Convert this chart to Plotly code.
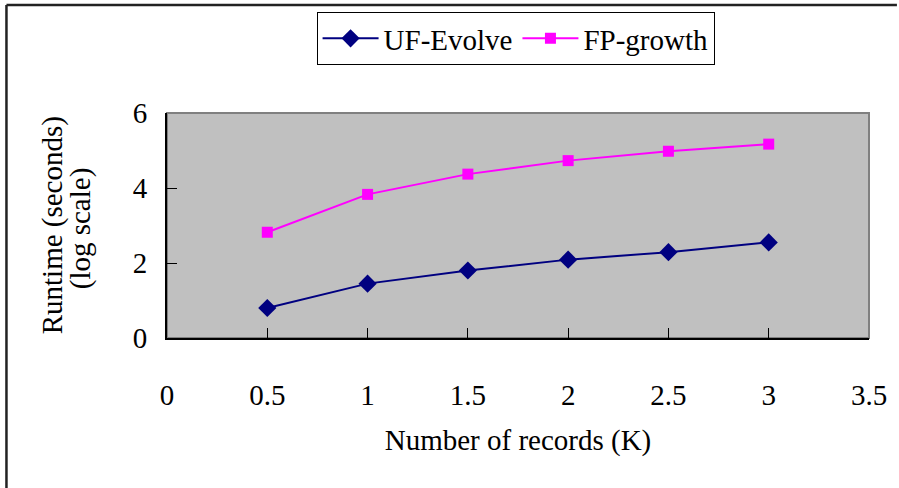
import plotly.graph_objects as go

records_k = [0.5, 1.0, 1.5, 2.0, 2.5, 3.0]
uf_evolve = [0.80, 1.45, 1.80, 2.09, 2.29, 2.55]
fp_growth = [2.82, 3.83, 4.37, 4.73, 4.98, 5.17]
x_ticks = [0, 0.5, 1, 1.5, 2, 2.5, 3, 3.5]
y_ticks = [0, 2, 4, 6]

FONT = "Liberation Serif, Times New Roman, serif"
W, H = 899, 488
L, R, T, B = 167, 28, 113, 150
PW, PH = W - L - R, H - T - B


def px_x(px):
    return (px - L) / PW


def px_y(py):
    return (H - B - py) / PH


fig = go.Figure()
fig.add_trace(go.Scatter(
    x=records_k, y=uf_evolve, mode="lines+markers", name="UF-Evolve",
    line=dict(color="#000080", width=2),
    marker=dict(symbol="diamond", size=14, color="#000080"),
))
fig.add_trace(go.Scatter(
    x=records_k, y=fp_growth, mode="lines+markers", name="FP-growth",
    line=dict(color="#FF00FF", width=2),
    marker=dict(symbol="square", size=11, color="#FF00FF"),
))

fig.update_layout(
    width=W, height=H,
    margin=dict(l=L, r=R, t=T, b=B, pad=0),
    paper_bgcolor="white",
    plot_bgcolor="#C0C0C0",
    font=dict(family=FONT, size=29, color="black"),
    showlegend=True,
    legend=dict(
        orientation="h", x=px_x(317), y=px_y(12), xanchor="left", yanchor="top",
        bgcolor="white", bordercolor="black", borderwidth=1,
        font=dict(family=FONT, size=29), itemwidth=56,
        tracegroupgap=0,
    ),
    xaxis=dict(
        range=[0, 3.5], tickvals=x_ticks, ticktext=[f"{v:g}" for v in x_ticks],
        ticks="inside", ticklen=10, tickcolor="black", tickwidth=1,
        showline=True, linecolor="black", linewidth=2,
        showgrid=False, zeroline=False, ticklabelstandoff=30,
        title=dict(text="Number of records (K)", standoff=20,
                   font=dict(family=FONT, size=29)),
    ),
    yaxis=dict(
        range=[0, 6], tickvals=y_ticks,
        ticks="inside", ticklen=10, tickcolor="black", tickwidth=1,
        showline=True, linecolor="black", linewidth=2,
        showgrid=False, zeroline=False, ticklabelstandoff=12,
    ),
    shapes=[
        dict(type="rect", xref="paper", yref="paper", x0=0, x1=1, y0=0, y1=1,
             line=dict(color="#808080", width=2), layer="below"),
        dict(type="line", xref="paper", yref="paper",
             x0=px_x(6), x1=px_x(W), y0=px_y(5), y1=px_y(5),
             line=dict(color="#222222", width=2.5)),
        dict(type="line", xref="paper", yref="paper",
             x0=px_x(6), x1=px_x(6), y0=px_y(5), y1=px_y(H),
             line=dict(color="#222222", width=2.5)),
    ],
    annotations=[
        dict(text="Runtime (seconds)", xref="paper", yref="paper",
             x=px_x(52), y=px_y(225), textangle=-90, showarrow=False,
             xanchor="center", yanchor="middle",
             font=dict(family=FONT, size=29)),
        dict(text="(log scale)", xref="paper", yref="paper",
             x=px_x(80), y=px_y(228), textangle=-90, showarrow=False,
             xanchor="center", yanchor="middle",
             font=dict(family=FONT, size=29)),
    ],
)

fig.write_html("out.html")
